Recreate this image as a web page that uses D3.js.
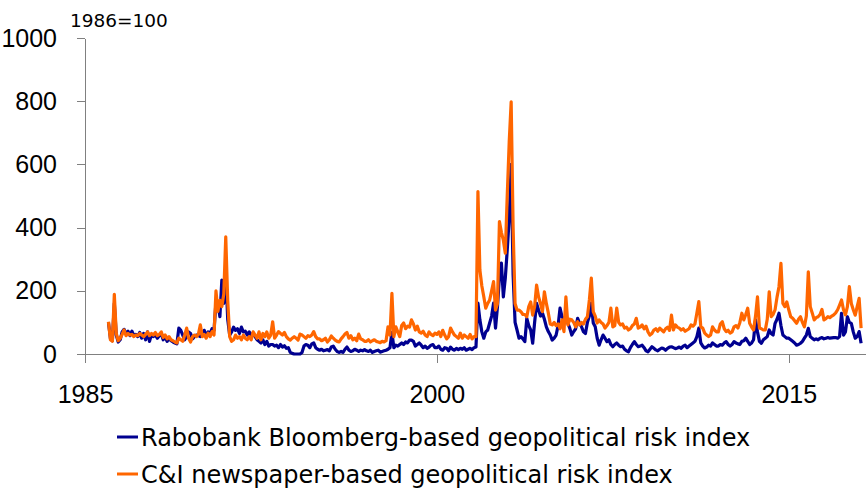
<!DOCTYPE html>
<html>
<head>
<meta charset="utf-8">
<script src="https://cdn.jsdelivr.net/npm/d3@7"></script>
<style>
  body { margin: 0; background: #fff; }
  svg { display: block; font-family: "DejaVu Sans", sans-serif; }
  .axis path, .axis line { stroke: #808080; shape-rendering: crispEdges; }
  .axis text { fill: #000; font-size: 25px; }
  .line { fill: none; stroke-width: 3.2; stroke-linejoin: round; }
</style>
</head>
<body>
<div id="chart"></div>
<script>
// Monthly index values, Jan 1986 .. Feb 2018 (1986 = 100)
var startYear = 1986;

// Rabobank Bloomberg-based index, one row per year
var rabobank = [
  100, 50, 42, 160, 60, 38, 45, 70, 78, 65, 72, 58,        // 1986
  72, 58, 62, 55, 68, 50, 65, 45, 70, 40, 62, 55,          // 1987
  60, 50, 58, 65, 45, 55, 40, 50, 42, 38, 35, 32,          // 1988
  82, 75, 60, 45, 55, 70, 65, 48, 55, 60, 58, 55,          // 1989
  60, 75, 55, 70, 65, 80, 75, 165, 160, 118, 234, 160,     // 1990
  260, 110, 60, 70, 85, 75, 80, 65, 85, 70, 72, 60,        // 1991
  70, 60, 65, 55, 45, 40, 35, 45, 30, 40, 25, 30,          // 1992
  30, 25, 28, 20, 30, 22, 26, 18, 20, 5, 2, 0,             // 1993
  0, 0, 0, 5, 25, 30, 28, 20, 32, 35, 20, 15,              // 1994
  12, 15, 10, 12, 14, 10, 22, 25, 15, 8, 5, 8,             // 1995
  5, 15, 22, 12, 8, 10, 15, 12, 8, 12, 10, 14,             // 1996
  10, 8, 12, 5, 8, 10, 12, 6, 8, 10, 12, 15,               // 1997
  20, 68, 20, 28, 25, 30, 35, 30, 38, 35, 44, 44,          // 1998
  40, 25, 30, 35, 28, 20, 25, 18, 22, 28, 30, 20,          // 1999
  20, 25, 15, 12, 20, 18, 10, 22, 15, 12, 18, 14,          // 2000
  18, 15, 20, 12, 15, 18, 14, 20, 22, 161, 108, 70,        // 2001
  50, 70, 76, 98, 120, 161, 82, 150, 245, 288, 181, 240,   // 2002
  330, 430, 600, 250, 100, 76, 50, 55, 48, 39, 113, 90,    // 2003
  76, 34, 100, 160, 139, 120, 130, 110, 86, 71, 60, 44,    // 2004
  50, 60, 90, 145, 118, 110, 120, 98, 81, 60, 71, 80,      // 2005
  113, 97, 86, 70, 65, 100, 120, 161, 98, 86, 50, 28,      // 2006
  45, 60, 50, 39, 45, 30, 23, 30, 35, 28, 23, 25,          // 2007
  15, 10, 7, 20, 30, 39, 30, 23, 25, 28, 20, 10,           // 2008
  7, 15, 23, 18, 13, 10, 15, 19, 17, 12, 18, 22,           // 2009
  23, 20, 17, 19, 22, 18, 25, 28, 20, 25, 30, 35,          // 2010
  40, 55, 82, 35, 25, 19, 22, 28, 25, 35, 30, 25,          // 2011
  25, 30, 28, 35, 39, 30, 25, 30, 39, 35, 32, 30,          // 2012
  40, 42, 50, 40, 30, 35, 45, 108, 70, 40, 34, 45,         // 2013
  50, 55, 76, 65, 60, 97, 110, 129, 90, 60, 55, 50,        // 2014
  50, 45, 40, 35, 28, 30, 34, 40, 50, 60, 81, 55,          // 2015
  50, 45, 48, 45, 50, 52, 48, 50, 52, 50, 51, 52,          // 2016
  52, 50, 55, 129, 60, 70, 118, 100, 97, 70, 50, 55,       // 2017
  71, 34                                                   // 2018
];

// Caldara & Iacoviello newspaper-based index
var newspaper = [
  102, 45, 40, 189, 65, 42, 50, 62, 76, 58, 65, 60,        // 1986
  62, 55, 60, 58, 65, 60, 55, 62, 70, 58, 65, 60,          // 1987
  68, 58, 62, 70, 52, 60, 48, 55, 45, 42, 38, 35,          // 1988
  50, 45, 40, 60, 82, 50, 38, 55, 60, 55, 62, 92,          // 1989
  55, 62, 50, 66, 55, 71, 60, 200, 135, 170, 150, 190,     // 1990
  371, 170, 55, 40, 45, 60, 50, 55, 45, 60, 50, 45,        // 1991
  55, 45, 70, 60, 50, 70, 45, 65, 55, 70, 50, 60,          // 1992
  102, 50, 60, 71, 65, 60, 68, 55, 48, 44, 50, 55,         // 1993
  50, 44, 63, 60, 55, 50, 58, 55, 60, 71, 55, 48,          // 1994
  48, 42, 45, 50, 38, 45, 57, 50, 44, 40, 38, 48,          // 1995
  55, 63, 68, 50, 58, 45, 50, 42, 63, 48, 45, 40,          // 1996
  40, 45, 38, 42, 45, 40, 38, 36, 40, 38, 42, 86,          // 1997
  60, 192, 55, 86, 70, 55, 90, 98, 80, 88, 85, 108,        // 1998
  95, 76, 88, 70, 66, 72, 60, 55, 70, 62, 58, 66,          // 1999
  62, 70, 55, 75, 60, 48, 55, 82, 70, 60, 55, 50,          // 2000
  66, 50, 60, 55, 50, 62, 48, 55, 55, 514, 266, 215,       // 2001
  181, 145, 160, 171, 200, 229, 139, 160, 419, 385, 360, 319, // 2002
  503, 671, 798, 400, 160, 139, 139, 134, 125, 125, 118, 150, // 2003
  165, 123, 150, 218, 181, 160, 134, 197, 160, 130, 95, 92, // 2004
  100, 90, 95, 80, 108, 71, 181, 92, 110, 108, 100, 86,    // 2005
  102, 92, 100, 95, 110, 118, 171, 240, 134, 120, 98, 108, // 2006
  100, 95, 82, 90, 100, 145, 86, 90, 145, 100, 92, 95,     // 2007
  82, 85, 76, 80, 90, 95, 113, 82, 85, 92, 80, 88,         // 2008
  70, 60, 65, 76, 80, 72, 82, 76, 70, 80, 85, 75,          // 2009
  123, 76, 92, 85, 82, 76, 80, 72, 76, 80, 92, 88,         // 2010
  95, 130, 166, 86, 82, 66, 60, 55, 60, 86, 76, 70,        // 2011
  70, 95, 102, 80, 71, 75, 66, 70, 86, 90, 82, 100,        // 2012
  129, 108, 125, 145, 97, 85, 76, 120, 181, 82, 80, 76,    // 2013
  76, 110, 197, 118, 125, 140, 180, 213, 287, 160, 150, 165, // 2014
  140, 118, 113, 105, 97, 110, 118, 100, 86, 120, 260, 150, // 2015
  130, 108, 115, 118, 125, 141, 108, 112, 118, 115, 120, 124, // 2016
  130, 140, 155, 171, 140, 124, 150, 213, 160, 140, 123, 150, // 2017
  176, 82                                                  // 2018
];

var xTicks = [1985, 2000, 2015];
var yTicks = [0, 200, 400, 600, 800, 1000];
var unitLabel = "1986=100";
var seriesNames = [
  "Rabobank Bloomberg-based geopolitical risk index",
  "C&I newspaper-based geopolitical risk index"
];
var seriesColors = ["#000090", "#ff6600"];

function drawChart() {
    var width = 866, height = 498;

    // Scales
    var xScale = d3.scaleLinear()
                   .domain([1985, 2018.25])
                   .range([85, 865]);

    var yScale = d3.scaleLinear()
                   .domain([0, 1000])
                   .range([354, 38]);

    var svg = d3.select("#chart")
                .append("svg")
                .attr("width", width)
                .attr("height", height);

    // Axes
    var xAxis = d3.axisBottom(xScale)
                  .tickValues(xTicks)
                  .tickFormat(d3.format("d"))
                  .tickSize(9)
                  .tickSizeOuter(0)
                  .tickPadding(22);

    var yAxis = d3.axisLeft(yScale)
                  .tickValues(yTicks)
                  .tickFormat(d3.format("d"))
                  .tickSize(8)
                  .tickSizeOuter(0)
                  .tickPadding(20);

    svg.append("g")
       .attr("class", "x axis")
       .attr("transform", "translate(0," + yScale(0) + ")")
       .call(xAxis);

    svg.append("g")
       .attr("class", "y axis")
       .attr("transform", "translate(" + xScale(1985) + ",0)")
       .call(yAxis);

    svg.append("text")
       .attr("x", 70)
       .attr("y", 27)
       .style("font-size", "18.5px")
       .text(unitLabel);

    // Lines (month i -> fractional year)
    var line = d3.line()
                 .x(function(d, i) { return xScale(startYear + i / 12); })
                 .y(function(d) { return yScale(d); });

    [rabobank, newspaper].forEach(function(series, k) {
        svg.append("path")
           .datum(series)
           .attr("class", "line")
           .attr("stroke", seriesColors[k])
           .attr("d", line);
    });

    // Legend
    var legend = svg.append("g").attr("class", "legend");
    seriesNames.forEach(function(name, k) {
        var y = 437 + k * 37;
        legend.append("line")
              .attr("x1", 117).attr("x2", 138)
              .attr("y1", y).attr("y2", y)
              .attr("stroke", seriesColors[k])
              .attr("stroke-width", 3);
        legend.append("text")
              .attr("x", 141)
              .attr("y", y)
              .attr("dy", "0.36em")
              .style("font-size", "24px")
              .text(name);
    });
}

drawChart();
</script>
</body>
</html>
